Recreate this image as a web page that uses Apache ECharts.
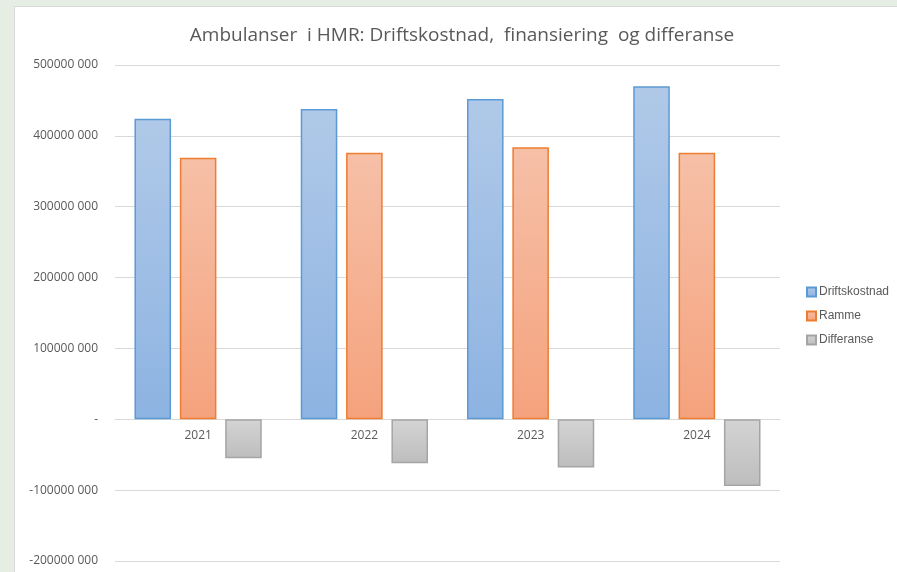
<!DOCTYPE html>
<html>
<head>
<meta charset="utf-8">
<script src="https://cdn.jsdelivr.net/npm/echarts@6/dist/echarts.min.js"></script>
<style>
  html, body { margin: 0; padding: 0; width: 897px; height: 572px; overflow: hidden; background: #e6ede2; }
  #chart { position: absolute; left: 14px; top: 6px; width: 883px; height: 566px; background: #fff; border-left: 1px solid #d9d9d9; border-top: 1px solid #d9d9d9; box-sizing: border-box; }
</style>
</head>
<body>
<div id="chart"></div>
<script>
var years = ['2021', '2022', '2023', '2024'];
var driftskostnad = [424000000, 438000000, 452000000, 470000000];
var ramme = [369000000, 376000000, 384000000, 376000000];
var differanse = [-55000000, -62000000, -68000000, -94000000];

function grad(top, bottom) {
  return new echarts.graphic.LinearGradient(0, 0, 0, 1, [
    { offset: 0, color: top }, { offset: 1, color: bottom }
  ]);
}

// 500000 000 style labels, zero shown as a dash
function fmt(v) {
  if (v === 0) return '-';
  var s = Math.abs(v).toString();
  var out = s.slice(0, -3) + ' ' + s.slice(-3);
  return (v < 0 ? '-' : '') + out;
}

var myChart = echarts.init(document.getElementById('chart'));
var font = '"Open Sans", "Liberation Sans", sans-serif';
var option = {
  animation: false,
  textStyle: { fontFamily: font },
  title: {
    text: 'Ambulanser  i HMR: Driftskostnad,  finansiering  og differanse',
    left: 442, top: 14, textAlign: 'center',
    textStyle: { fontSize: 19, fontWeight: 'normal', color: '#595959', fontFamily: font }
  },
  legend: {
    orient: 'vertical', left: 786, top: 274,
    icon: 'rect', itemWidth: 9, itemHeight: 9, itemGap: 12,
    textStyle: { fontSize: 12, color: '#595959', fontFamily: '"Liberation Sans", sans-serif', padding: [0, 0, 0, -2] },
    data: ['Driftskostnad', 'Ramme', 'Differanse']
  },
  grid: { left: 100, right: 117, top: 58, bottom: 11, outerBoundsMode: 'none', containLabel: false },
  xAxis: {
    type: 'category', data: years,
    offset: -142, // x-axis sits on the zero line (200M above the bottom, 71px per 100M)
    axisLine: { onZero: false, lineStyle: { color: '#d9d9d9' } },
    axisTick: { show: false },
    axisLabel: { color: '#595959', fontSize: 12, margin: 11 }
  },
  yAxis: {
    type: 'value', min: -200000000, max: 500000000, interval: 100000000,
    axisLine: { show: false }, axisTick: { show: false },
    splitLine: { lineStyle: { color: '#d9d9d9' } },
    axisLabel: { color: '#595959', fontSize: 12, margin: 17, formatter: fmt }
  },
  series: [
    {
      name: 'Driftskostnad', type: 'bar', data: driftskostnad,
      barWidth: '22%', barGap: '24%', z: 3,
      itemStyle: { color: grad('#b0c9e8', '#8db3e2'), borderColor: '#5b9bd5', borderWidth: 1.5 }
    },
    {
      name: 'Ramme', type: 'bar', data: ramme,
      barWidth: '22%', barGap: '24%', z: 3,
      itemStyle: { color: grad('#f6c0a7', '#f5a27d'), borderColor: '#ed7d31', borderWidth: 1.5 }
    },
    {
      name: 'Differanse', type: 'bar', data: differanse,
      barWidth: '22%', barGap: '24%', z: 3,
      itemStyle: { color: grad('#d4d4d4', '#bdbdbd'), borderColor: '#a5a5a5', borderWidth: 1.5 }
    }
  ]
};
myChart.setOption(option);
</script>
</body>
</html>
